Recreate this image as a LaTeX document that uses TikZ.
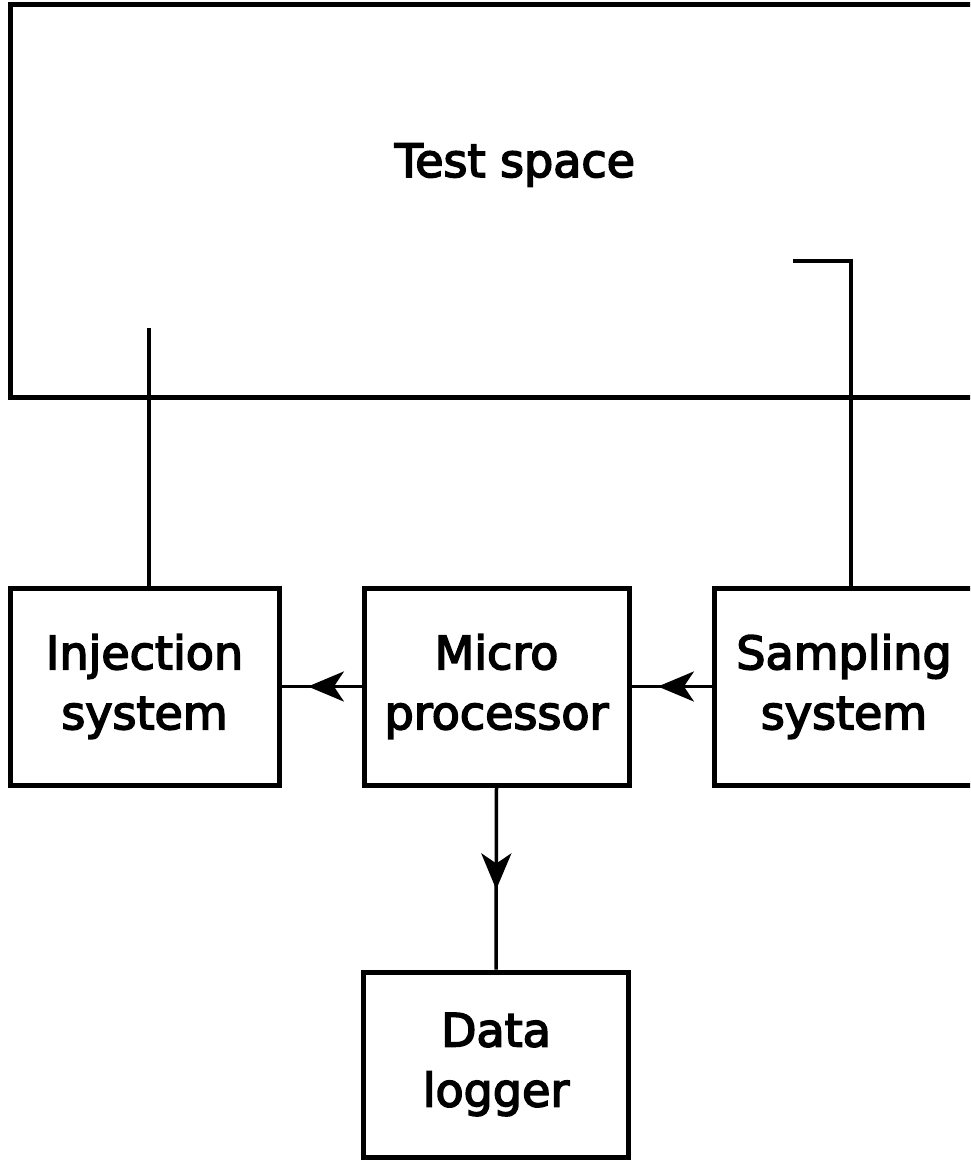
\documentclass[tikz,border=0pt]{standalone}
\usepackage{fontspec}
\setmainfont{DejaVu Sans}
\newcommand\heavytext{\special{pdf:literal 2 Tr 1.6 w}}
\usetikzlibrary{arrows.meta,decorations.markings}
\tikzset{
  blk/.style={draw,line width=5pt,inner sep=0pt,align=center,font=\fontsize{46}{60}\selectfont},
  lbl/.style={font=\fontsize{46}{60}\selectfont},
  conn/.style={line width=3.5pt},
  midarrow/.style={conn,postaction={decorate},decoration={markings,
    mark=at position #1 with {\arrow{Stealth[length=36pt,width=30pt,inset=10pt]}}}}
}
\begin{document}
\begin{tikzpicture}[x=1pt,y=-1pt]
\useasboundingbox (0,0) rectangle (970,1160);
\clip (0,0) rectangle (970,1160);
% Test space (right side beyond the frame)
\node[draw,line width=5pt,minimum width=1000pt,minimum height=393pt,inner sep=0pt] (test) at (510,200.5) {};
\node[lbl] (testlabel) at (515,165) {\heavytext Test space};
% blocks
\node[blk,minimum width=269pt,minimum height=197pt] (inj) at (144.5,686.5) {\heavytext Injection\\\heavytext system};
\node[blk,minimum width=265pt,minimum height=197pt] (micro) at (496.5,686.5) {\heavytext Micro\\\heavytext processor};
\node[blk,minimum width=290pt,minimum height=197pt,text width=260pt] (samp) at (859,686.5) {\hspace*{-30pt}\heavytext Sampling\\\hspace*{-30pt}\heavytext system};
\node[blk,minimum width=265pt,minimum height=185pt] (logger) at (496,1064.5) {\heavytext Data\\\heavytext logger};
% probes
\coordinate (injend) at (149,328);
\coordinate (sampend) at (793,261);
\coordinate (sampcorner) at (851,261);
\draw[conn] (injend) -- (injend |- inj.north);
\draw[conn] (sampend) -- (sampcorner) -- (sampcorner |- samp.north);
% arrows
\draw[midarrow=0.67] (micro.west) -- (inj.east);
\draw[midarrow=0.67] (samp.west) -- (micro.east);
\draw[midarrow=0.56] (micro.south) -- (logger.north);
\end{tikzpicture}
\end{document}
